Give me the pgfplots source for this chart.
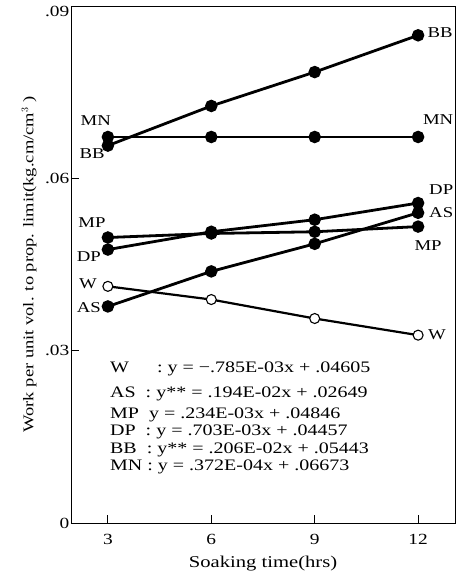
\documentclass[border=0pt]{standalone}
\usepackage{fontspec}
\setmainfont{Liberation Serif}[FakeStretch=1.25]
\usepackage{pgfplots}
\pgfplotsset{compat=1.18}

\newcommand{\tk}{\fontsize{15.5}{18}\selectfont}
\newcommand{\lb}{\fontsize{15}{17}\selectfont}
\newcommand{\eq}{\fontsize{16}{18}\selectfont}

\begin{document}
\begin{tikzpicture}
\useasboundingbox (-71pt,-59pt) rectangle (386pt,523pt);
\begin{axis}[
    at={(0,0)}, anchor=south west,
    scale only axis,
    width=384pt, height=517pt,
    xmin=1.93, xmax=13.07,
    ymin=0, ymax=0.09,
    xtick={3,6,9,12},
    ytick={0,0.03,0.06},
    yticklabels={0,.03,.06},
    extra y ticks={0.09},
    extra y tick labels={.09},
    extra y tick style={yticklabel style={yshift=-5.5pt}},
    xtick pos=bottom, ytick pos=left,
    tick align=inside,
    major tick length=8pt,
    axis line style={line width=0.9pt},
    every tick/.style={line width=0.9pt, black},
    /pgf/number format/assume math mode=true,
    ticklabel style={font=\tk},
    yticklabel style={inner sep=1.5pt},
    xticklabel style={yshift=-8pt},
    xlabel={Soaking time(hrs)},
    ylabel={Work per unit vol. to prop. limit(kg.cm/cm$^3$ )},
    xlabel style={font=\fontsize{16.5}{18}\selectfont, at={(axis description cs:0.5,-0.079)}, anchor=center},
    ylabel style={font=\fontsize{14.8}{18}\selectfont, at={(axis description cs:-0.109,0.5)}, anchor=center},
    clip=false,
    every axis plot/.append style={black},
]
% filled series
\addplot[line width=2.8pt, mark=*, mark size=4.8pt] coordinates {(3,0.0657) (6,0.0726) (9,0.0785) (12,0.0849)}; % BB
\addplot[line width=2.8pt, mark=*, mark size=4.8pt] coordinates {(3,0.0672) (6,0.0672) (9,0.0672) (12,0.0672)}; % MN
\addplot[line width=2.8pt, mark=*, mark size=4.8pt] coordinates {(3,0.0476) (6,0.0507) (9,0.0528) (12,0.0557)}; % DP
\addplot[line width=2.8pt, mark=*, mark size=4.8pt] coordinates {(3,0.0497) (6,0.0504) (9,0.0507) (12,0.0516)}; % MP
\addplot[line width=2.8pt, mark=*, mark size=4.8pt] coordinates {(3,0.0377) (6,0.0438) (9,0.0486) (12,0.0540)}; % AS
% open series
\addplot[line width=2.2pt, mark=*, mark size=5pt, mark options={fill=white, line width=1.1pt}] coordinates {(3,0.0412) (6,0.0389) (9,0.0356) (12,0.0327)}; % W

% series labels
\node[font=\lb] at (axis cs:2.65,0.0700) {MN};
\node[font=\lb] at (axis cs:2.54,0.0643) {BB};
\node[font=\lb] at (axis cs:12.64,0.0853) {BB};
\node[font=\lb] at (axis cs:12.58,0.0703) {MN};
\node[font=\lb] at (axis cs:12.67,0.0580) {DP};
\node[font=\lb] at (axis cs:12.67,0.0540) {AS};
\node[font=\lb] at (axis cs:12.29,0.0483) {MP};
\node[font=\lb] at (axis cs:2.54,0.0523) {MP};
\node[font=\lb] at (axis cs:2.45,0.0464) {DP};
\node[font=\lb] at (axis cs:2.42,0.0417) {W};
\node[font=\lb] at (axis cs:2.45,0.0375) {AS};
\node[font=\lb] at (axis cs:12.55,0.0327) {W};

% regression equations
\node[font=\eq, anchor=west, inner sep=0pt] at (axis cs:3.06,0.0268) {W\hspace{28pt}: y = −.785E-03x + .04605};
\node[font=\eq, anchor=west, inner sep=0pt] at (axis cs:3.06,0.0224) {AS\ \ : y** = .194E-02x + .02649};
\node[font=\eq, anchor=west, inner sep=0pt] at (axis cs:3.06,0.0189) {MP\ \ y = .234E-03x + .04846};
\node[font=\eq, anchor=west, inner sep=0pt] at (axis cs:3.06,0.0158) {DP\ \ : y = .703E-03x + .04457};
\node[font=\eq, anchor=west, inner sep=0pt] at (axis cs:3.06,0.0127) {BB\ \ : y** = .206E-02x + .05443};
\node[font=\eq, anchor=west, inner sep=0pt] at (axis cs:3.06,0.0097) {MN : y = .372E-04x + .06673};
\end{axis}
\end{tikzpicture}
\end{document}
